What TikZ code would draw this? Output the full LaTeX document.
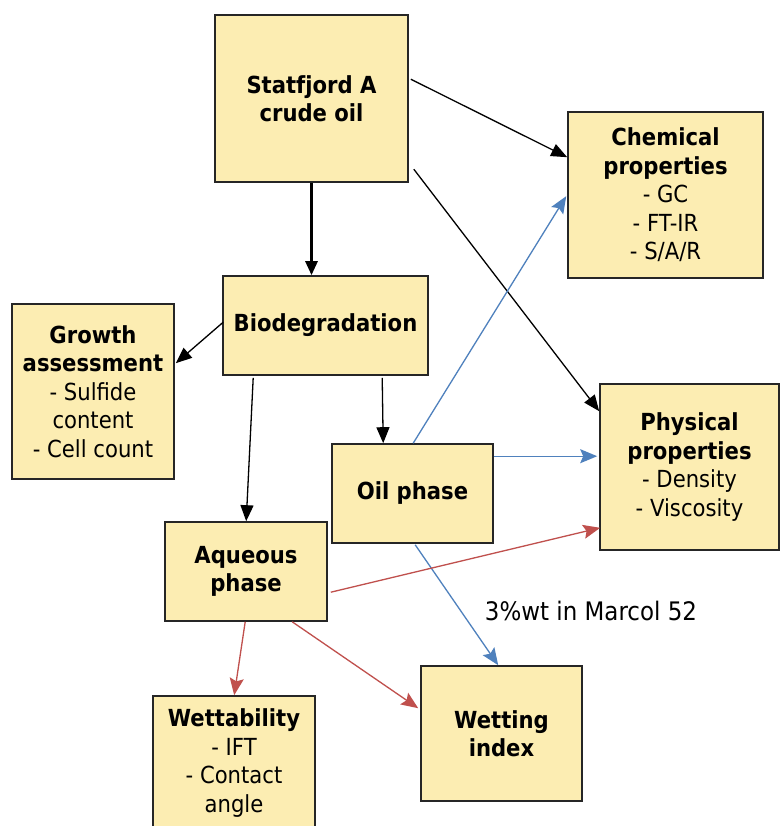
\documentclass[tikz,border=0pt]{standalone}
\usepackage{fontspec}
\setmainfont{DejaVu Sans}[FakeStretch=0.9]
\usetikzlibrary{arrows.meta,calc}
\definecolor{boxfill}{RGB}{252,237,178}
\definecolor{myblue}{RGB}{79,129,189}
\definecolor{myred}{RGB}{192,80,77}
\newcommand\ttl[1]{{\bfseries #1}}
\tikzset{
  box/.style={draw=black!85, line width=1.6pt, fill=boxfill, inner sep=0pt, align=center,
    font=\fontsize{23.5}{28.5}\selectfont},
  arr/.style={line width=1.3pt, -{Triangle[length=16pt,width=13pt]}},
  thickarr/.style={line width=2.8pt, -{Triangle[length=14pt,width=12pt]}},
  barr/.style={line width=1.3pt, draw=myblue, -{Stealth[length=17pt,width=14pt,inset=3pt,fill=myblue]}},
  rarr/.style={line width=1.3pt, draw=myred, -{Stealth[length=17pt,width=14pt,inset=3pt,fill=myred]}},
}
\begin{document}
\begin{tikzpicture}[x=1pt,y=-1pt]
\useasboundingbox (0,0) rectangle (780,826);
\fill[white] (0,0) rectangle (780,826);
\begin{scope}
\clip (0,0) rectangle (780,826);
\node[box, minimum width=193pt, minimum height=167pt] (stat) at (311.5,98.5) {\ttl{Statfjord A}\\\ttl{crude oil}};
\node[box, minimum width=195pt, minimum height=166pt] (chem) at (665.5,195) {\ttl{Chemical}\\\ttl{properties}\\- GC\\- FT-IR\\- S/A/R};
\node[box, minimum width=205pt, minimum height=99pt] (bio) at (325.5,325.5) {\ttl{Biodegradation}};
\node[box, minimum width=162pt, minimum height=175pt] (grow) at (93,391.5) {\ttl{Growth}\\\ttl{assessment}\\- Sulfide\\content\\- Cell count};
\node[box, minimum width=161pt, minimum height=99pt] (oil) at (412.5,493.5) {\ttl{Oil phase}};
\node[box, minimum width=179pt, minimum height=166pt] (phys) at (689.5,467) {\ttl{Physical}\\\ttl{properties}\\- Density\\- Viscosity};
\node[box, minimum width=162pt, minimum height=99pt] (aq) at (246,571.5) {\ttl{Aqueous}\\\ttl{phase}};
\node[box, minimum width=162pt, minimum height=134pt] (wtb) at (234,763) {\ttl{Wettability}\\- IFT\\- Contact\\angle};
\node[box, minimum width=161pt, minimum height=135pt] (wet) at (501.5,733.5) {\ttl{Wetting}\\\ttl{index}};
\end{scope}
\node[font=\fontsize{25.5}{28}\selectfont, inner sep=0pt] (lbl) at (591,611) {3\%wt in Marcol 52};

% black connectors
\draw[arr] ($(stat.north east)+(2,65)$) -- ($(chem.north west)+(0,46)$);
\draw[arr] ($(stat.north east)+(5,155)$) -- ($(phys.north west)+(0,28)$);
\draw[thickarr] (stat.south) -- (stat.south |- bio.north);
\draw[arr] ($(bio.north west)+(1,47)$) -- ($(grow.north east)+(1,60)$);
\draw[arr] ($(bio.south west)+(31,2)$) -- ($(aq.north west)+(82,0)$);
\draw[arr] ($(bio.south west)+(160,2)$) -- ($(oil.north west)+(52,0)$);
% blue connectors
\draw[barr] ($(oil.north west)+(82,0)$) -- ($(chem.north west)+(-1,85)$);
\draw[barr] ($(oil.north east)+(0,13)$) -- ($(phys.north west)+(-2,73)$);
\draw[barr] ($(oil.south west)+(84,1)$) -- ($(wet.north west)+(78,0)$);
% red connectors
\draw[rarr] ($(aq.north east)+(3,71)$) -- ($(phys.south west)+(1,-23)$);
\draw[rarr] ($(aq.south west)+(81,0)$) -- ($(wtb.north west)+(82,0)$);
\draw[rarr] ($(aq.south west)+(128,0)$) -- ($(wet.north west)+(-2,43)$);
\end{tikzpicture}
\end{document}
